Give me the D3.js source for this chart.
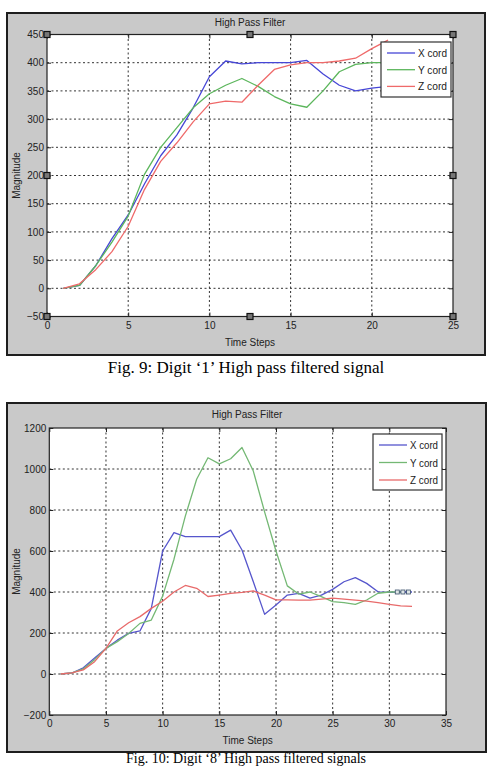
<!DOCTYPE html>
<html>
<head>
<meta charset="utf-8">
<script src="https://cdn.jsdelivr.net/npm/d3@7/dist/d3.min.js"></script>
<style>
  html, body { margin: 0; padding: 0; background: #fff; }
  svg { display: block; }
  .tk text { font-family: "Liberation Sans Narrow", "Liberation Sans", Arial, sans-serif; font-size: 10px; fill: #222; }
  .lbl { font-family: "Liberation Sans Narrow", "Liberation Sans", Arial, sans-serif; font-size: 10px; fill: #222; }
  .cap { font-family: "Liberation Serif", "Times New Roman", serif; font-size: 17px; fill: #000; }
</style>
</head>
<body>
<div id="page"></div>
<script>
'use strict';

// ---- Fig. 9 (digit '1') ----
var fig9Steps = [1, 2, 3, 4, 5, 6, 7, 8, 9, 10, 11, 12, 13, 14, 15, 16, 17, 18, 19, 20, 21];
var fig9X = [0, 5, 40, 88, 130, 185, 235, 272, 320, 375, 403, 398, 400, 400, 400, 404, 380, 360, 350, 355, 358];
var fig9Y = [0, 5, 40, 82, 128, 202, 250, 285, 320, 345, 360, 372, 358, 340, 327, 321, 350, 384, 397, 400, 400];
var fig9Z = [0, 8, 33, 65, 110, 175, 225, 258, 295, 327, 332, 330, 360, 388, 396, 400, 400, 403, 408, 425, 440];
var fig9XTicks = [0, 5, 10, 15, 20, 25];
var fig9YTicks = [-50, 0, 50, 100, 150, 200, 250, 300, 350, 400, 450];

// ---- Fig. 10 (digit '8') ----
var fig10Steps = [1, 2, 3, 4, 5, 6, 7, 8, 9, 10, 11, 12, 13, 14, 15, 16, 17, 18, 19, 20, 21, 22, 23, 24, 25, 26, 27, 28, 29, 30, 31, 32];
var fig10X = [0, 5, 30, 78, 125, 165, 198, 210, 320, 600, 690, 670, 670, 670, 670, 702, 605, 450, 291, 337, 385, 393, 370, 385, 413, 450, 470, 442, 401, 398, 400, 400];
var fig10Y = [0, 5, 25, 70, 125, 158, 198, 247, 263, 380, 560, 770, 950, 1055, 1025, 1050, 1105, 990, 790, 600, 430, 390, 400, 377, 353, 348, 340, 361, 394, 400, 400];
var fig10Z = [0, 5, 20, 60, 125, 210, 250, 280, 320, 355, 400, 432, 418, 378, 385, 393, 398, 405, 385, 362, 362, 360, 360, 365, 370, 365, 360, 355, 348, 340, 332, 330];
var fig10Tip = [30.7, 31.2, 31.7];
var fig10XTicks = [0, 5, 10, 15, 20, 25, 30, 35];
var fig10YTicks = [-200, 0, 200, 400, 600, 800, 1000, 1200];

var seriesNames = ['X cord', 'Y cord', 'Z cord'];

var W = 490, H = 766;

var svg = d3.select('#page').append('svg')
  .attr('width', W)
  .attr('height', H);

function drawFigure(cfg) {
  var g = svg.append('g');

  // grey figure window
  g.append('rect')
    .attr('x', cfg.frame.x0).attr('y', cfg.frame.y0)
    .attr('width', cfg.frame.x1 - cfg.frame.x0)
    .attr('height', cfg.frame.y1 - cfg.frame.y0)
    .style('fill', '#c9c9c9')
    .style('stroke', '#1e1e1e')
    .style('stroke-width', 2);

  var x = d3.scaleLinear().domain(cfg.xDomain).range([cfg.box.x0, cfg.box.x1]);
  var y = d3.scaleLinear().domain(cfg.yDomain).range([cfg.box.y1, cfg.box.y0]);

  g.append('rect')
    .attr('x', cfg.box.x0).attr('y', cfg.box.y0)
    .attr('width', cfg.box.x1 - cfg.box.x0)
    .attr('height', cfg.box.y1 - cfg.box.y0)
    .style('fill', '#fff');

  // dotted grid
  g.append('g').selectAll('line').data(cfg.xTicks.slice(1, -1))
    .enter().append('line')
      .attr('x1', function(d) { return x(d); })
      .attr('x2', function(d) { return x(d); })
      .attr('y1', cfg.box.y0).attr('y2', cfg.box.y1)
      .style('stroke', '#333').style('stroke-dasharray', '2,2.5');
  g.append('g').selectAll('line').data(cfg.yTicks.slice(1, -1))
    .enter().append('line')
      .attr('y1', function(d) { return y(d); })
      .attr('y2', function(d) { return y(d); })
      .attr('x1', cfg.box.x0).attr('x2', cfg.box.x1)
      .style('stroke', '#333').style('stroke-dasharray', '2,2.5');

  // axes, ticks pointing inwards
  var fmt = d3.format('d');
  var ax = [
    {a: d3.axisBottom(x).tickValues(cfg.xTicks).tickFormat(fmt).tickSize(-4).tickSizeOuter(0).tickPadding(5), t: 'translate(0,' + cfg.box.y1 + ')'},
    {a: d3.axisTop(x).tickValues(cfg.xTicks).tickSize(-4).tickSizeOuter(0).tickFormat(''), t: 'translate(0,' + cfg.box.y0 + ')'},
    {a: d3.axisLeft(y).tickValues(cfg.yTicks).tickFormat(fmt).tickSize(-4).tickSizeOuter(0).tickPadding(3), t: 'translate(' + cfg.box.x0 + ',0)'},
    {a: d3.axisRight(y).tickValues(cfg.yTicks).tickSize(-4).tickSizeOuter(0).tickFormat(''), t: 'translate(' + cfg.box.x1 + ',0)'}
  ];
  ax.forEach(function(o) {
    var s = g.append('g').attr('class', 'tk').attr('transform', o.t).call(o.a);
    s.select('.domain').remove();
    s.selectAll('.tick line').style('stroke', '#222');
    s.attr('font-family', null).attr('font-size', null);
  });

  g.append('rect')
    .attr('x', cfg.box.x0).attr('y', cfg.box.y0)
    .attr('width', cfg.box.x1 - cfg.box.x0)
    .attr('height', cfg.box.y1 - cfg.box.y0)
    .style('fill', 'none').style('stroke', '#222').style('stroke-width', 1.2);

  // series
  var line = d3.line()
    .x(function(d) { return x(d[0]); })
    .y(function(d) { return y(d[1]); });

  cfg.series.forEach(function(vals, i) {
    var pts = vals.map(function(v, k) { return [cfg.steps[k], v]; });
    g.append('path')
      .datum(pts)
      .attr('d', line)
      .style('fill', 'none')
      .style('stroke', cfg.colors[i])
      .style('stroke-width', 1.3)
      .style('stroke-linejoin', 'round');
  });

  if (cfg.tip) {
    g.append('g').selectAll('rect').data(cfg.tip)
      .enter().append('rect')
        .attr('x', function(d) { return x(d) - 2; })
        .attr('y', y(400) - 2)
        .attr('width', 4).attr('height', 4)
        .style('fill', '#dfe6e6')
        .style('stroke', '#3a4f6a')
        .style('stroke-width', 0.8);
  }

  // texts
  g.append('text').attr('class', 'lbl')
    .attr('x', cfg.titlePos[0]).attr('y', cfg.titlePos[1])
    .attr('text-anchor', 'middle')
    .text('High Pass Filter');
  g.append('text').attr('class', 'lbl')
    .attr('x', (cfg.box.x0 + cfg.box.x1) / 2).attr('y', cfg.xLabelY)
    .attr('text-anchor', 'middle')
    .text('Time Steps');
  g.append('text').attr('class', 'lbl')
    .attr('transform', 'translate(20,' + (cfg.box.y0 + cfg.box.y1) / 2 + ') rotate(-90)')
    .attr('text-anchor', 'middle')
    .text('Magnitude');

  // legend
  var lg = g.append('g');
  lg.append('rect')
    .attr('x', cfg.legend.x0).attr('y', cfg.legend.y0)
    .attr('width', cfg.legend.x1 - cfg.legend.x0)
    .attr('height', cfg.legend.y1 - cfg.legend.y0)
    .style('fill', '#fff').style('stroke', '#333').style('stroke-width', 1.2);
  seriesNames.forEach(function(name, i) {
    var ry = cfg.legend.y0 + 11 + i * cfg.legend.step;
    lg.append('line')
      .attr('x1', cfg.legend.x0 + 6).attr('x2', cfg.legend.x0 + 34)
      .attr('y1', ry).attr('y2', ry)
      .style('stroke', cfg.colors[i]).style('stroke-width', 1.3);
    lg.append('text').attr('class', 'lbl')
      .attr('x', cfg.legend.x0 + 37).attr('y', ry + 4)
      .attr('textLength', cfg.legend.x1 - cfg.legend.x0 - 41)
      .attr('lengthAdjust', 'spacingAndGlyphs')
      .style('font-size', '11px')
      .text(name);
  });

  // selection handles (fig. 9 only)
  if (cfg.handles) {
    var hx = [cfg.box.x0, (cfg.box.x0 + cfg.box.x1) / 2, cfg.box.x1];
    var hy = [cfg.box.y0, (cfg.box.y0 + cfg.box.y1) / 2, cfg.box.y1];
    var hp = [];
    hy.forEach(function(yy, j) {
      hx.forEach(function(xx, i) {
        if (!(i === 1 && j === 1)) hp.push([xx, yy]);
      });
    });
    g.append('g').selectAll('rect').data(hp)
      .enter().append('rect')
        .attr('x', function(d) { return d[0] - 3; })
        .attr('y', function(d) { return d[1] - 3; })
        .attr('width', 6).attr('height', 6)
        .style('fill', '#777').style('stroke', '#111').style('stroke-width', 1.2);
  }

  svg.append('text').attr('class', 'cap')
    .attr('x', cfg.captionPos[0]).attr('y', cfg.captionPos[1])
    .attr('text-anchor', 'middle')
    .style('font-size', cfg.captionSize + 'px')
    .text(cfg.caption);
}

drawFigure({
  frame: {x0: 7, y0: 13, x1: 485, y1: 355},
  box: {x0: 47, y0: 34.5, x1: 453, y1: 316.5},
  xDomain: [0, 25], yDomain: [-50, 450],
  xTicks: fig9XTicks, yTicks: fig9YTicks,
  steps: fig9Steps,
  series: [fig9X, fig9Y, fig9Z],
  colors: ['#4646d6', '#5cb65c', '#ef6a6a'],
  titlePos: [250, 26],
  xLabelY: 346,
  legend: {x0: 381, y0: 42, x1: 451, y1: 97, step: 16.7},
  handles: true,
  caption: 'Fig. 9: Digit ‘1’ High pass filtered signal',
  captionPos: [246, 373],
  captionSize: 17
});

drawFigure({
  frame: {x0: 7, y0: 403, x1: 486, y1: 752},
  box: {x0: 49.3, y0: 428, x1: 446, y1: 715},
  xDomain: [0, 35], yDomain: [-200, 1200],
  xTicks: fig10XTicks, yTicks: fig10YTicks,
  steps: fig10Steps,
  series: [fig10X, fig10Y, fig10Z],
  colors: ['#5656cc', '#74b874', '#e86a6a'],
  tip: fig10Tip,
  titlePos: [247, 418],
  xLabelY: 744,
  legend: {x0: 373, y0: 434, x1: 442, y1: 490, step: 17.5},
  handles: false,
  caption: 'Fig. 10: Digit ‘8’ High pass filtered signals',
  captionPos: [246, 763],
  captionSize: 14
});
</script>
</body>
</html>
